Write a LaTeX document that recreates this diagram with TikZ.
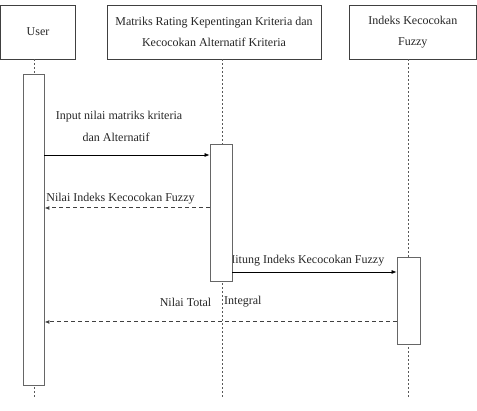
\documentclass[tikz,border=0pt]{standalone}
\usepackage{fontspec}
\setmainfont{Liberation Serif}
\usetikzlibrary{arrows.meta}
\begin{document}
\begin{tikzpicture}[x=1pt,y=-1pt,
  txt/.style={font=\fontsize{12}{21}\selectfont, text=black!85, inner sep=0pt, align=center},
  head/.style={draw=black!75, line width=0.8pt, fill=white, txt},
  act/.style={draw=black!60, line width=0.8pt, fill=white},
  life/.style={draw=black!65, line width=0.6pt, dash pattern=on 2pt off 2pt},
  msg/.style={draw=black, line width=0.7pt, -{Latex[length=5pt,width=4pt]}},
  ret/.style={draw=black!75, line width=1pt, dash pattern=on 4pt off 3pt, -{Latex[length=5pt,width=4pt]}}
]
\useasboundingbox (0,0) rectangle (477,411);
% headers
\node[head, minimum width=75pt, minimum height=54pt] (user) at (38,32) {User};
\node[head, minimum width=214pt, minimum height=54pt] (mat) at (214,32) {Matriks Rating Kepentingan Kriteria dan\\Kecocokan Alternatif Kriteria};
\node[head, minimum width=127pt, minimum height=54pt] (idx) at (412.8,32) {Indeks Kecocokan\\Fuzzy};
% lifeline ends
\coordinate (ue) at (34,398);
\coordinate (me) at (222,398);
\coordinate (ie) at (408,398);
\draw[life] (user.south -| ue) -- (ue);
\draw[life] (mat.south -| me) -- (me);
\draw[life] (idx.south -| ie) -- (ie);
% labels
\node[txt] (l1) at (119,117) {Input nilai matriks kriteria};
\node[txt] (l1b) at (116,137) {dan Alternatif};
\node[txt] (l2) at (120.5,199) {Nilai Indeks Kecocokan Fuzzy};
\node[txt, anchor=east] (l3) at (384.5,261) {Hitung Indeks Kecocokan Fuzzy};
\node[txt, anchor=east] (l4a) at (211.5,302) {Nilai Total};
\node[txt, anchor=west] (l4b) at (224,302) {Integral};
% activations
\node[act, minimum width=21pt, minimum height=311pt, inner sep=0pt] (ua) at (33.5,229.5) {};
\node[act, minimum width=22pt, minimum height=137pt, inner sep=0pt] (ma) at (221,212.5) {};
\node[act, minimum width=23pt, minimum height=87pt, inner sep=0pt] (ia) at (408.5,300.5) {};
% messages
\coordinate (y1) at (0,155);
\coordinate (y2) at (0,208);
\coordinate (y3) at (0,272);
\coordinate (y4) at (0,322);
\draw[msg] (ua.east |- y1) -- (ma.west |- y1);
\draw[ret] (ma.west |- y2) -- (ua.east |- y2);
\draw[msg] (ma.east |- y3) -- (ia.west |- y3);
\draw[ret] (ia.west |- y4) -- (ua.east |- y4);
\end{tikzpicture}
\end{document}
